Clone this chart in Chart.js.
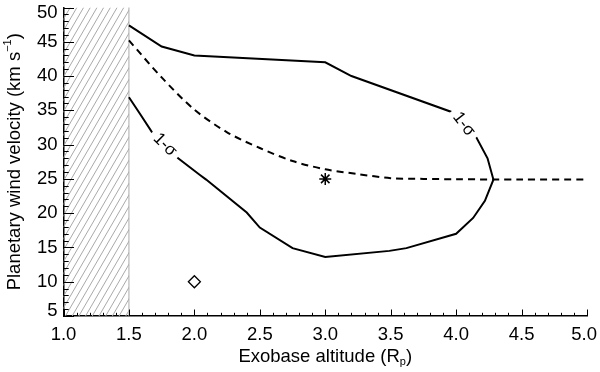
<!DOCTYPE html>
<html>
<head>
<meta charset="utf-8">
<script src="https://cdn.jsdelivr.net/npm/chart.js@4.4.1/dist/chart.umd.min.js"></script>
<style>
  html, body { margin: 0; padding: 0; background: #fff; }
</style>
</head>
<body>
<canvas id="chart" width="600" height="372"></canvas>
<script>
// Mean wind velocity (dashed)
const meanX = [1.5, 1.75, 2.0, 2.25, 2.5, 2.75, 3.0, 3.25, 3.5, 3.75, 4.0, 4.5, 5.0];
const meanY = [45.2, 39.8, 35.1, 31.8, 29.5, 27.6, 26.4, 25.7, 25.1, 25.0, 24.95, 24.9, 24.9];

// 1-sigma contour, closed path (upper branch left->right, lower branch right->left)
const contourX = [1.5, 1.75, 2.0, 3.0, 3.2, 3.96, 4.15, 4.24, 4.285, 4.22, 4.13, 4.0, 3.62, 3.49, 3.0, 2.75, 2.5, 2.4, 2.09, 2.04, 1.876, 1.673, 1.584, 1.5];
const contourY = [47.4, 44.3, 43.0, 42.0, 40.0, 34.8, 31.2, 28.0, 24.9, 21.8, 19.3, 17.0, 14.9, 14.5, 13.6, 14.9, 17.9, 20.1, 24.9, 25.6, 28.0, 31.9, 34.5, 36.9];

// single markers
const starX = [3.0];
const starY = [25.0];
const diamondX = [2.0];
const diamondY = [10.0];

// axes
const xTicks = [1.0, 1.5, 2.0, 2.5, 3.0, 3.5, 4.0, 4.5, 5.0];
const yTicks = [5, 10, 15, 20, 25, 30, 35, 40, 45, 50];
const hatchRange = [1.0, 1.5];

// contour labels: [x, y, angle in degrees]
const contourLabels = [[1.775, 29.96, 45], [4.059, 32.96, 52]];

const FONT = '"Liberation Sans", Arial, Helvetica, sans-serif';
const toXY = (xs, ys) => xs.map((x, i) => ({ x, y: ys[i] }));

const decorations = {
    id: 'decorations',
    beforeDatasetsDraw(chart) {
        const { ctx, chartArea: a, scales: { x } } = chart;
        const x0 = x.getPixelForValue(hatchRange[0]);
        const x1 = x.getPixelForValue(hatchRange[1]);
        ctx.save();
        ctx.beginPath();
        ctx.rect(x0, a.top, x1 - x0, a.bottom - a.top);
        ctx.clip();
        ctx.strokeStyle = '#a9a9a9';
        ctx.lineWidth = 1;
        const h = a.bottom - a.top;
        const slant = h * 0.58;
        for (let sx = x0 - slant; sx < x1 + 7; sx += 6.7) {
            ctx.beginPath();
            ctx.moveTo(sx, a.bottom);
            ctx.lineTo(sx + slant, a.top);
            ctx.stroke();
        }
        ctx.restore();
        ctx.save();
        ctx.strokeStyle = '#aaaaaa';
        ctx.lineWidth = 1;
        ctx.beginPath();
        ctx.moveTo(x1, a.top);
        ctx.lineTo(x1, a.bottom);
        ctx.stroke();
        ctx.restore();
    },
    afterDatasetsDraw(chart) {
        const { ctx, scales: { x, y } } = chart;
        // 1-sigma labels over the contour
        ctx.save();
        ctx.font = '17px ' + FONT;
        ctx.textAlign = 'center';
        ctx.textBaseline = 'middle';
        contourLabels.forEach(([lx, ly, ang]) => {
            ctx.save();
            ctx.translate(x.getPixelForValue(lx), y.getPixelForValue(ly));
            ctx.rotate(ang * Math.PI / 180);
            const w = ctx.measureText('1-σ').width;
            ctx.fillStyle = '#fff';
            ctx.fillRect(-w / 2 - 5, -6, w + 10, 12);
            ctx.fillStyle = '#000';
            ctx.fillText('1-σ', 0, 0);
            ctx.restore();
        });
        ctx.restore();
    },
    afterDraw(chart) {
        const { ctx, chartArea: a, scales: { x, y } } = chart;
        ctx.save();
        ctx.strokeStyle = '#000';
        ctx.lineWidth = 1;
        // y ticks (inward)
        for (let v = 5; v <= 50; v++) {
            const py = Math.round(y.getPixelForValue(v)) + 0.5;
            const len = v % 5 === 0 ? 10.5 : 5.2;
            ctx.beginPath();
            ctx.moveTo(a.left, py);
            ctx.lineTo(a.left + len, py);
            ctx.stroke();
        }
        // x ticks (inward)
        for (let i = 10; i <= 50; i++) {
            const px = Math.round(x.getPixelForValue(i / 10)) + 0.5;
            const len = i % 5 === 0 ? 6.5 : 3.2;
            ctx.beginPath();
            ctx.moveTo(px, a.bottom);
            ctx.lineTo(px, a.bottom - len);
            ctx.stroke();
        }
        ctx.fillStyle = '#000';
        ctx.font = '18.5px ' + FONT;
        // y tick labels
        ctx.textAlign = 'right';
        ctx.textBaseline = 'middle';
        yTicks.forEach((v) => {
            let py = y.getPixelForValue(v);
            py = Math.min(Math.max(py, a.top + 5), a.bottom - 5);
            ctx.fillText(String(v), a.left - 6, py);
        });
        // x tick labels
        ctx.textAlign = 'center';
        xTicks.forEach((v) => {
            const label = v.toFixed(1);
            const hw = ctx.measureText(label).width / 2;
            let px = x.getPixelForValue(v);
            px = Math.min(px, chart.width - hw - 3);
            ctx.fillText(label, px, 335);
        });
        // x title with subscript
        const parts = [['Exobase altitude (R', 18.5, 0], ['p', 11, 5], [')', 18.5, 0]];
        drawRich(ctx, parts, (a.left + a.right) / 2, 357);
        // y title with superscript, rotated
        ctx.save();
        ctx.translate(15, (a.top + a.bottom) / 2);
        ctx.rotate(-Math.PI / 2);
        drawRich(ctx, [['Planetary wind velocity (km s', 18.5, 0], ['−1', 11, -7], [')', 18.5, 0]], 0, 0);
        ctx.restore();
        ctx.restore();
    }
};

function drawRich(ctx, parts, cx, cy) {
    let total = 0;
    parts.forEach(([t, s]) => { ctx.font = s + 'px ' + FONT; total += ctx.measureText(t).width; });
    let px = cx - total / 2;
    ctx.textAlign = 'left';
    ctx.textBaseline = 'middle';
    parts.forEach(([t, s, dy]) => {
        ctx.font = s + 'px ' + FONT;
        ctx.fillText(t, px, cy + dy);
        px += ctx.measureText(t).width;
    });
}

new Chart(document.getElementById('chart'), {
    type: 'scatter',
    data: {
        datasets: [
            {
                data: toXY(contourX, contourY),
                showLine: true,
                borderColor: '#000',
                borderWidth: 2,
                pointRadius: 0,
                tension: 0,
                fill: false,
            },
            {
                data: toXY(meanX, meanY),
                showLine: true,
                borderColor: '#000',
                borderWidth: 2,
                borderDash: [7, 5],
                pointRadius: 0,
                tension: 0.3,
                fill: false,
            },
            {
                data: toXY(starX, starY),
                pointStyle: 'star',
                pointRadius: 6,
                borderColor: '#000',
                borderWidth: 1.5,
                backgroundColor: '#000',
            },
            {
                data: toXY(diamondX, diamondY),
                pointStyle: 'rectRot',
                pointRadius: 6,
                borderColor: '#000',
                borderWidth: 1.3,
                backgroundColor: '#fff',
            },
        ],
    },
    options: {
        responsive: false,
        animation: false,
        devicePixelRatio: 1,
        layout: { padding: { top: 4.5, right: 13, bottom: 0, left: 0 } },
        plugins: { legend: { display: false }, tooltip: { enabled: false } },
        scales: {
            x: {
                type: 'linear',
                min: 1,
                max: 5,
                ticks: { display: false },
                grid: { display: false, drawTicks: false },
                border: { display: true, color: '#000', width: 1.5 },
                afterFit(scale) { scale.height = 56; },
            },
            y: {
                type: 'linear',
                min: 5,
                max: 50,
                ticks: { display: false },
                grid: { display: false, drawTicks: false },
                border: { display: true, color: '#000', width: 1.5 },
                afterFit(scale) { scale.width = 63.5; },
            },
        },
    },
    plugins: [decorations],
});
</script>
</body>
</html>
